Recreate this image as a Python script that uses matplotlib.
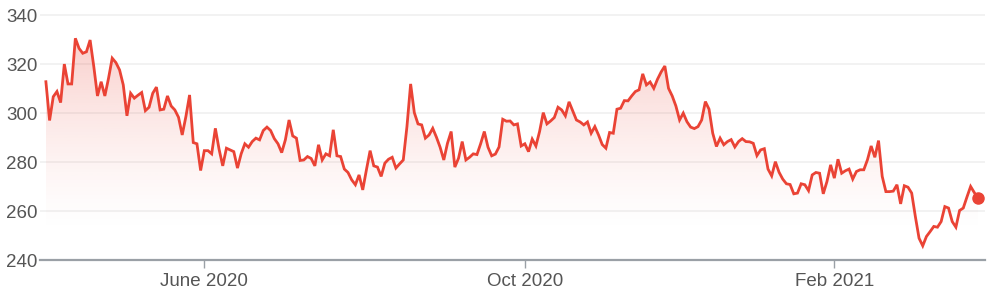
import numpy as np
import pandas as pd
import matplotlib
matplotlib.use("Agg")
import matplotlib.pyplot as plt
from matplotlib.patches import Polygon

# daily closing prices
prices = [
    312.8, 297.0, 306.7, 308.8, 304.3, 320.0, 311.9, 311.9, 330.5, 326.4,
    324.4, 325.0, 329.8, 319.0, 307.0, 312.8, 307.0, 314.2, 322.4, 320.6,
    317.6, 311.5, 298.9, 308.1, 306.1, 307.3, 308.4, 301.0, 302.4, 308.1,
    310.6, 301.3, 301.6, 307.0, 302.9, 301.3, 298.3, 291.1, 298.6, 307.4,
    288.0, 287.5, 276.6, 284.7, 284.7, 283.4, 293.8, 285.3, 278.5, 285.7,
    285.0, 284.3, 277.6, 283.4, 287.5, 286.1, 288.4, 289.8, 289.1, 292.9,
    294.3, 292.9, 289.6, 287.5, 283.9, 289.1, 297.2, 290.7, 289.8, 280.7,
    280.9, 282.3, 281.5, 278.5, 287.1, 280.9, 283.4, 282.6, 293.2, 282.6,
    282.3, 277.2, 275.8, 272.8, 270.8, 274.8, 268.7, 276.9, 284.7, 278.5,
    278.0, 274.2, 279.6, 281.2, 282.0, 277.6, 279.3, 280.9, 294.5, 311.9,
    300.2, 295.6, 295.2, 289.8, 291.1, 293.8, 290.2, 286.1, 280.9, 287.7,
    292.5, 278.0, 281.6, 288.4, 280.9, 282.0, 283.4, 283.1, 287.5, 292.5,
    286.1, 282.6, 283.3, 286.2, 297.5, 296.7, 296.8, 295.2, 295.6, 286.6,
    287.5, 284.3, 289.4, 286.6, 292.5, 300.2, 295.6, 296.8, 298.2, 302.4,
    301.3, 298.9, 304.6, 300.9, 297.2, 296.4, 295.2, 296.4, 291.8, 294.5,
    291.1, 287.2, 285.7, 292.1, 291.8, 301.6, 302.0, 305.1, 305.0, 307.0,
    308.8, 309.5, 316.0, 311.5, 312.7, 310.1, 313.8, 316.8, 319.2, 310.1,
    307.0, 302.9, 297.2, 300.0, 296.5, 294.3, 293.7, 294.5, 297.2, 304.7,
    301.6, 291.8, 286.4, 289.8, 287.1, 288.4, 289.2, 286.2, 288.4, 289.6,
    288.4, 288.3, 287.7, 282.7, 285.0, 285.5, 277.2, 274.4, 280.2, 275.9,
    273.1, 271.2, 270.9, 267.1, 267.4, 271.2, 270.8, 268.4, 274.8, 275.8,
    275.5, 267.1, 272.1, 278.9, 273.5, 281.2, 275.5, 276.5, 277.2, 273.1,
    276.2, 276.9, 276.9, 281.0, 286.6, 282.0, 288.8, 274.2, 268.0, 268.0,
    268.2, 270.8, 263.0, 270.4, 269.8, 267.4, 257.8, 249.0, 245.9, 249.7,
    251.7, 253.8, 253.5, 255.8, 261.9, 261.3, 255.8, 253.5, 260.3, 261.3,
    265.8, 270.1, 267.6, 265.3,
]

# UK market holidays in the period
holidays = ["2020-04-10", "2020-04-13", "2020-05-08", "2020-05-25",
            "2020-08-31", "2020-12-25", "2020-12-28", "2021-01-01"]
dates = pd.bdate_range("2020-03-26", periods=len(prices), freq="C", holidays=holidays)

tick_months = ["2020-06", "2020-10", "2021-02"]
tick_labels = ["June 2020", "Oct 2020", "Feb 2021"]

y_ticks = [240, 260, 280, 300, 320, 340]

red = "#ea4335"
plt.rcParams["font.family"] = ["Liberation Sans", "DejaVu Sans"]

fig = plt.figure(figsize=(9.97, 2.97), dpi=100)
ax = fig.add_axes([40 / 997, (297 - 260.3) / 297, 945 / 997, 250.2 / 297])

x = np.arange(len(prices))
y = np.array(prices)

# gradient fill under the line
poly = np.vstack([[x[0], 240], np.column_stack([x, y]), [x[-1], 240]])
clip = Polygon(poly, closed=True, facecolor="none", edgecolor="none")
ax.add_patch(clip)
levels = np.linspace(240, 332, 300)
alpha = np.clip((levels - 250) / 82, 0, 1) ** 1.4 * 0.26
rgba = np.zeros((len(levels), 1, 4))
rgba[..., :3] = matplotlib.colors.to_rgb(red)
rgba[:, 0, 3] = alpha
im = ax.imshow(rgba, extent=[x[0], x[-1], 240, 332], origin="lower",
               aspect="auto", zorder=1, interpolation="bilinear")
im.set_clip_path(clip)

ax.plot(x, y, color=red, lw=2.0, zorder=3, solid_joinstyle="miter")
ax.plot(x[-1], y[-1], "o", color=red, ms=8, zorder=4)

ax.set_xlim(-1.6, 254.9)
ax.set_ylim(240, 342)

ax.set_yticks(y_ticks)
for v in y_ticks[1:]:
    ax.axhline(v, color="#f1f1f1", lw=1.3, zorder=0)

tick_pos = [int(np.argmax(dates.strftime("%Y-%m") == m)) for m in tick_months]
ax.set_xticks(tick_pos)
ax.set_xticklabels(tick_labels)

for s in ["top", "right", "left"]:
    ax.spines[s].set_visible(False)
ax.spines["bottom"].set_color("#9aa0a6")
ax.spines["bottom"].set_linewidth(1.6)
ax.tick_params(axis="y", length=0, pad=2, labelsize=13.5, labelcolor="#555555")
ax.tick_params(axis="x", length=6, width=1, color="#9aa0a6", pad=3,
               labelsize=13.5, labelcolor="#555555")

fig.savefig("out.png", dpi=100)
